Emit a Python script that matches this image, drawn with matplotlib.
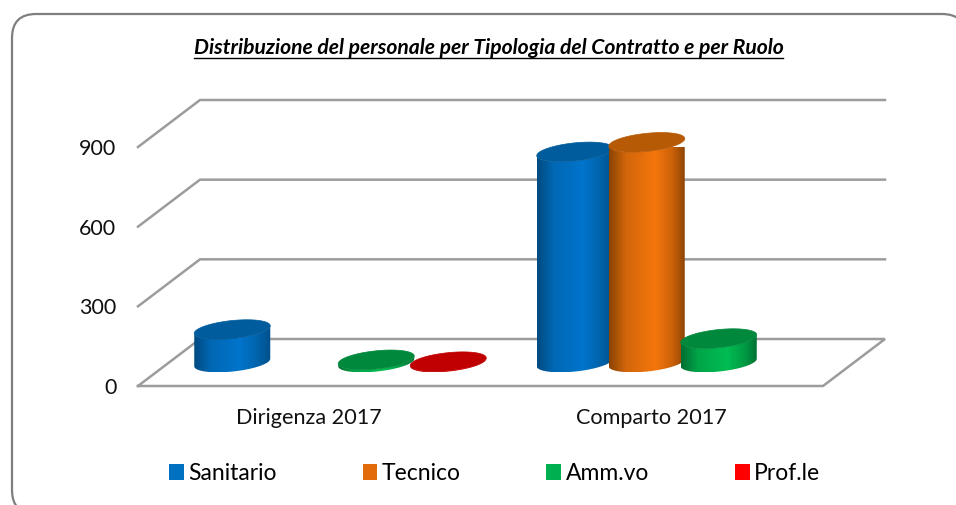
import numpy as np
import matplotlib
matplotlib.use('Agg')
import matplotlib.pyplot as plt
from matplotlib.colors import LinearSegmentedColormap
from matplotlib.patches import FancyBboxPatch, Patch, Polygon

plt.rcParams['font.family'] = ['Lato', 'DejaVu Sans']

categories = ['Dirigenza 2017', 'Comparto 2017']
series = ['Sanitario', 'Tecnico', 'Amm.vo', 'Prof.le']
sanitario = [124, 793]
tecnico = [0, 829]
amm_vo = [10, 90]
prof_le = [3, 0]
yticks = [0, 300, 600, 900]
title = 'Distribuzione del personale per Tipologia del Contratto e per Ruolo'

values = [sanitario, tecnico, amm_vo, prof_le]
legend_colors = ['#0070C0', '#E36C0A', '#00B050', '#FF0000']
side_colors = [('#004A80', '#0068B4', '#0074CC', '#0064AC', '#004F8A'),
               ('#8A4304', '#D2660A', '#F5760C', '#CC6208', '#8A4304'),
               ('#006E32', '#00A548', '#00BC52', '#009C44', '#006E32'),
               ('#A00000', '#D00000', '#E00000', '#D00000', '#A00000')]
top_colors = ['#005C9C', '#B65A06', '#00883C', '#C00000']
orders = [3, 4, 7, 5]

W, H = 956, 505
fig = plt.figure(figsize=(W / 100, H / 100), dpi=100)

# frame and title live in a pixel sized axes behind the chart
bg = fig.add_axes([0, 0, 1, 1])
bg.set_xlim(0, W)
bg.set_ylim(H, 0)
bg.axis('off')
bg.add_patch(FancyBboxPatch((36, 38), 906, 452, boxstyle='round,pad=24,rounding_size=24',
                            fc='white', ec='#7F7F7F', lw=1.6, clip_on=True))
bg.text(488.5, 54.5, title, ha='center', va='baseline', fontsize=15.2,
        fontweight='bold', fontstyle='italic', color='black')
bg.plot([194, 783], [57.5, 57.5], color='black', lw=1)

left, right, base, top = 138, 823, 386, 147
ax = fig.add_axes([left / W, 1 - base / H, (right - left) / W, (base - top) / H])
ax.patch.set_visible(False)
for s in ax.spines.values():
    s.set_visible(False)

px_x = (right - left) / len(categories)
px_y = (base - top) / yticks[-1]
depth_x = 62 / px_x
depth_y = 47 / px_y
line = dict(color='#9C9C9C', lw=1.8, clip_on=False, zorder=1, solid_joinstyle='miter')

# walls: one bent line for each tick, then the floor
for t in yticks[1:]:
    ax.plot([0, depth_x, 2 + depth_x], [t, t + depth_y, t + depth_y], **line)
ax.plot([0, 2, 2 + depth_x, depth_x, 0], [0, 0, depth_y, depth_y, 0], **line)

bar_step = 72 / px_x
a, b, tilt = 38.2, 9, np.radians(6)


def ellipse(cx, cy):
    t = np.linspace(0, 2 * np.pi, 240, endpoint=False)
    x = a * np.cos(t) * np.cos(tilt) - b * np.sin(t) * np.sin(tilt)
    y = a * np.cos(t) * np.sin(tilt) + b * np.sin(t) * np.cos(tilt)
    i = np.argmin(x)
    x, y = np.roll(x, -i), np.roll(y, -i)
    return cx + x / px_x, cy + y / px_y


def cylinder(cx, value, i):
    y0 = depth_y / 2
    xb, yb = ellipse(cx, y0)
    xt, yt = ellipse(cx, y0 + value)
    n = np.argmax(xb)
    # lower arc of the base, then back along the lower arc of the top
    xs = np.r_[xb[:n + 1], xt[:n + 1][::-1]]
    ys = np.r_[yb[:n + 1], yt[:n + 1][::-1]]
    clip = Polygon(np.c_[xs, ys], closed=True, fc='none', ec='none', transform=ax.transData)
    ax.add_patch(clip)
    stops = [0, 0.22, 0.6, 0.82, 1]
    cmap = LinearSegmentedColormap.from_list('side', list(zip(stops, side_colors[i])))
    img = ax.imshow(np.linspace(0, 1, 256)[None, :], cmap=cmap, aspect='auto', interpolation='bilinear',
                    extent=[xs.min(), xs.max(), ys.min(), ys.max()], zorder=orders[i])
    img.set_clip_path(clip)
    # top face, the area above the side path too
    ax.fill(xt, yt, color=top_colors[i], lw=0.5, clip_on=False, zorder=orders[i] + 0.5)


for i in range(len(series)):
    for c in range(len(categories)):
        if values[i][c] > 0:
            cx = c + 0.5 + depth_x / 2 + (i - 1.5) * bar_step
            cylinder(cx, values[i][c], i)

ax.set_xlim(0, 2)
ax.set_ylim(0, yticks[-1])
ax.set_xticks([0.5, 1.5], categories)
ax.set_yticks(yticks)
ax.tick_params(axis='x', length=0, pad=16, labelsize=15.6, labelcolor='#111111')
ax.tick_params(axis='y', length=0, pad=15.5, labelsize=15.5, labelcolor='#111111')

handles = [Patch(fc=c, ec='none') for c in legend_colors]
ax.legend(handles, series, ncol=4, frameon=False, fontsize=16.5, loc='center',
          bbox_to_anchor=((494.5 - left) / (right - left), (base - 473.5) / (base - top)),
          handlelength=0.65, handleheight=0.65, handletextpad=0.18, columnspacing=3.75, borderaxespad=0)

fig.savefig('out.png', dpi=100)
